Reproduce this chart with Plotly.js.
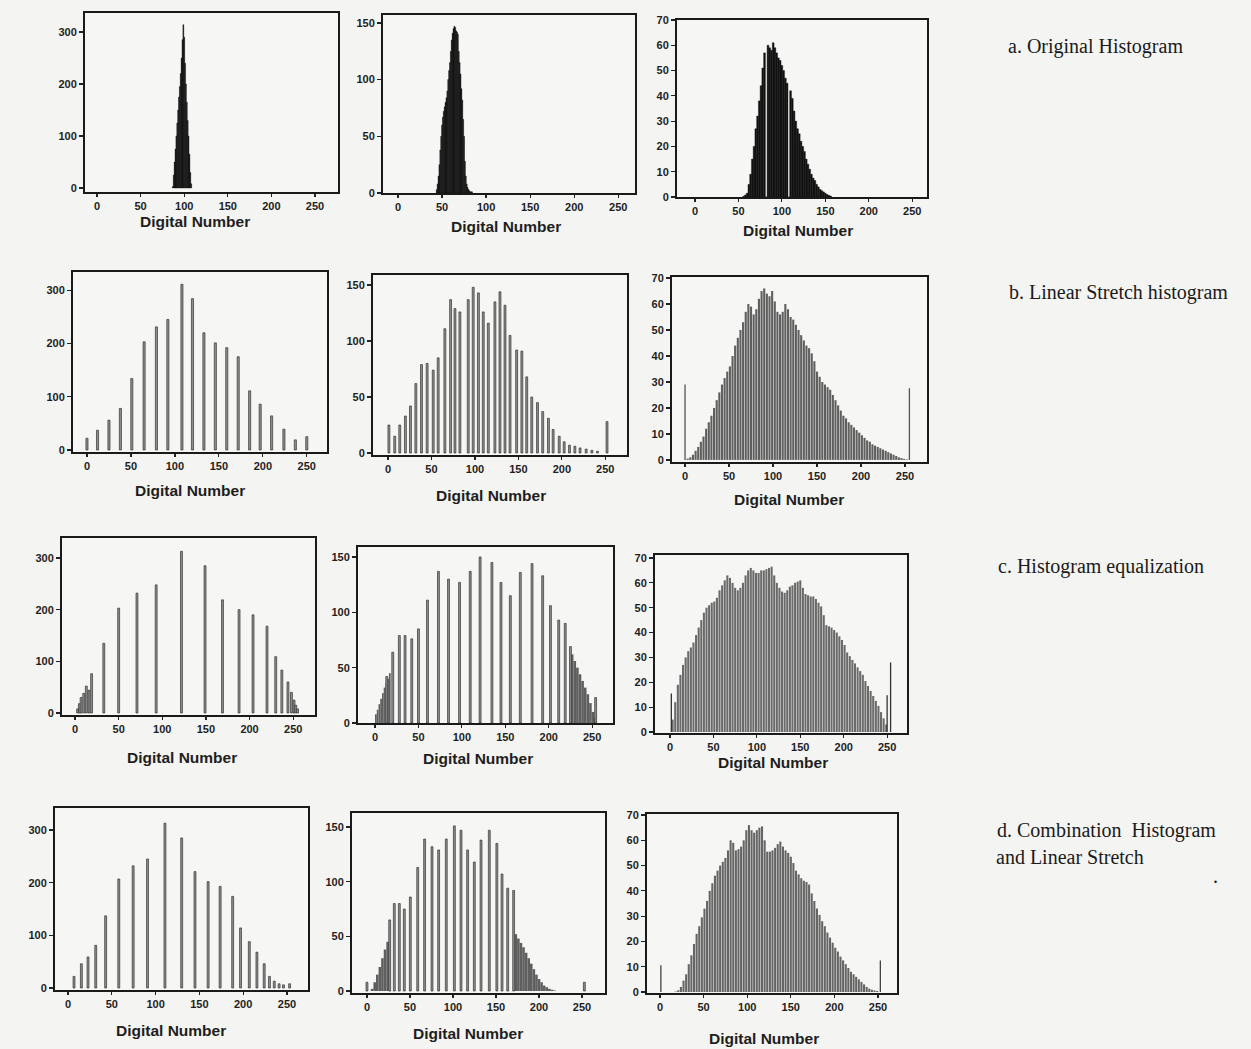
<!DOCTYPE html>
<html>
<head>
<meta charset="utf-8">
<script src="https://cdn.plot.ly/plotly-3.0.1.min.js"></script>
<style>
  html, body { margin: 0; padding: 0; background: #f4f4f2; }
  #chart { width: 1251px; height: 1049px; }
</style>
</head>
<body>
<div id="chart"></div>
<script>
// ---------------- DATA ----------------
const xTickVals = [0, 50, 100, 150, 200, 250];
const yTicks300 = [0, 100, 200, 300];
const yTicks150 = [0, 50, 100, 150];
const yTicks70 = [0, 10, 20, 30, 40, 50, 60, 70];
const rowLabels = ["a. Original Histogram", "b. Linear Stretch histogram", "c. Histogram equalization", "d. Combination  Histogram", "and Linear Stretch"];
const axisTitle = "Digital Number";

// a. Original histograms
const dn1 = [87,88,89,90,91,92,93,94,95,96,97,98,99,100,101,102,103,104,105,106,107,108];
const cnt1 = [3,25,50,75,100,125,150,175,195,220,250,285,314,290,240,200,165,130,100,65,30,8];

const dn2 = [44,45,46,47,48,49,50,51,52,53,54,55,56,57,58,59,60,61,62,63,64,65,66,67,68,69,70,71,72,73,74,75,76,77,78,79,80,81,82,83,84];
const cnt2 = [3,8,15,25,38,50,60,67,72,76,80,84,90,100,108,115,125,135,141,145,147,146,143,142,140,125,115,105,92,82,65,50,28,15,8,5,3,2,1,1,1];

const dn3start = 56, dn3step = 2;
const cnt3 = [0.3,0.8,1.5,5,9,15,20,27,32,38,44,51,57,0,60,59,58,61,59,57,55,54,52,50,47,45,0,42,39,34,30,27,25,22,20,18,15,13,11,9,7.5,6.5,5,4,3,2.5,2,1.5,1,0.7,0.4];

// b. Linear stretch
const dn4 = [0,12,25,38,51,65,79,92,108,120,133,146,159,172,185,197,210,224,237,250];
const cnt4 = [22,37,56,78,134,203,231,245,311,284,220,201,192,175,111,86,64,39,19,25];

const dn5 = [1,7.7,13.5,20,25.8,32,38.5,45,52,57.7,65.4,72,77,82.7,92.3,98,104,109.6,115.4,123,128.8,134.6,140.4,148,154,159.6,165.4,172,178,184.6,190,197,202.7,208.8,215,221,228,234.6,241,252];
const cnt5 = [25,15,25,33,42,62,79,80,74,85,111,137,129,126,137,148,143,126,116,135,144,132,105,92,91,68,50,45,37,31,21,15,10,7,6,4.5,3.5,2.4,1.5,28];

const dn6start = 3, dn6step = 3;
const cnt6 = [0.5,1,2,3.5,5,7,9,12,14.5,17,20,23,26,29,31.5,34,36,40,44,47,50,53,57,60,59,56,58,62,65,66,64,63,65,61,57,56,57,60,58,55,54,52,50,48,46,44,43,41,38,34,32,30,29,28,27,25,23,21,19,17,16,14.5,13.5,12.5,11.5,10.5,9.5,8.5,7.5,7,6,5.5,5,4.5,4,3.5,3,2.5,2,1.5,1,0.7,0.4,0.2];
const dn6spk = [0, 255];
const cnt6spk = [29, 27.6];

// c. Histogram equalization
const dn7 = [3,5,7,10,13,16,19,33,50,71,93,122,149,169,188,204,220,230,237,244,248,251,253,255];
const cnt7 = [8,18,30,38,52,44,76,135,203,232,248,313,285,219,200,190,168,109,83,60,40,25,15,8];

const dn8 = [13.5,20.4,28,34.6,42.3,50,60.4,73,84.6,97.3,109.6,121,134.6,145,155.8,167.3,180.8,193,202,211.5,219,225,254];
const cnt8 = [42,64,79,79,76,85,111,137,130,127,137,150,145,127,115,136,144,133,106,93,90,69,23];
const dn8fillL = [1,3,5,7,9,11,13,15,17];
const cnt8fillL = [8,12,17,22,27,32,36,40,45];
const dn8fillR = [227,230,233,236,239,242,245,248,251,253];
const cnt8fillR = [62,56,50,44,38,32,26,18,10,5];

const dn9start = 3, dn9step = 3;
const cnt9 = [5,12,19,23,27,30,32.5,34,36,39,42,45,48,50,51,52,52.5,54,57,59,61,63,62,60,58,57,58,60,63,65,66,65,64,64,65,65,65.5,66,66.5,63,60,58,56.5,56,57,58.5,59,60,60.5,61,58,55.5,55,54.5,54.5,53.5,52,50.5,47,43,42.5,42,41,40,38.5,37,35,32,30.5,29,27.6,26,24.5,23,20.5,18.5,16.5,14.5,12.5,10.5,8,5.5,3];
const dn9spk = [1.5, 250, 254];
const cnt9spk = [15.5, 14.8, 28];

// d. Combination histogram and linear stretch
const dn10 = [6.9,15.3,22.9,31.7,43,58,74.4,90.8,110.7,129.8,145,160,173.7,188,197,207,215.7,224,230,235.5,241,246,253];
const cnt10 = [22,46,59,81,137,207,232,245,313,285,221,202,193,174,114,88,68,46,22,13,8,6,8];

const dn11 = [0,26.4,31.8,37.6,43.4,50.4,59,67,75.6,83.3,92.2,101.6,109.3,117,124.8,132.6,142.2,151,157,163.6,170.5,252.7];
const cnt11 = [8,65,80,80,75,86,113,139,132,129,139,151,147,129,118,138,147,135,107,94,92,8];
const dn11fillL = [6,9,12,15,18,21,24];
const cnt11fillL = [2,8,15,22,30,38,45];
const dn11fillR = [173,176,179,182,185,188,191,194,197,200,203,206,209,212,215,218];
const cnt11fillR = [52,48,44,40,35,30,25,20,15,11,8,5,3.5,2,1.2,0.6];

const dn12start = 18, dn12step = 3;
const cnt12 = [0.2,0.7,2,4.5,7,11,14.5,19,23,26,29.5,33,36,40,43,46,48,50,51.5,53,56,60,59,56,56.5,57.5,60,64,66,64,63,64,65,65.5,60,55.5,55.5,56,57,58.5,59.5,57.5,56,55,53.5,51,48,46.5,45,44,43.5,42.5,39,36,33,30.5,28,26,23.5,21.5,19.5,17.5,16,14,12.5,11,9.5,8,7,6,5,4,3,2,1.3,0.9,0.6,0.4];
const dn12spk = [1, 252.7];
const cnt12spk = [10.6, 12.5];

// bin positions of the regular histograms
function bins(start, step, n) { const a = []; for (let i = 0; i < n; i++) a.push(start + i * step); return a; }

// ---------------- LAYOUT ----------------
const W = 1251, H = 1049;
const BLACK = {color: '#111111', line: {color: '#111111', width: 0.4}};
const COMB = {color: '#8f8f8f', line: {color: '#353535', width: 0.7}};
const DENSE = {color: '#5f5f5f', line: {width: 0}};

const panels = [
  {box:[85,338,13,192],  xr:[-13.8,276.4], yr:[-7.7,336.5], yt:yTicks300, tt:[195,222],
   tr:[{x:dn1, y:cnt1, w:1.05, m:BLACK}]},
  {box:[383,635,15,193], xr:[-17,269], yr:[0,157], yt:yTicks150, tt:[506,226],
   tr:[{x:dn2, y:cnt2, w:1.05, m:BLACK}]},
  {box:[677,927,20,197], xr:[-20.7,267], yr:[0,70], yt:yTicks70, tt:[798,230],
   tr:[{x:bins(dn3start, dn3step, cnt3.length), y:cnt3, w:2.05, m:BLACK}]},
  {box:[73,327,272,452], xr:[-15.9,273], yr:[-3.75,334], yt:yTicks300, tt:[190,490],
   tr:[{x:dn4, y:cnt4, w:2.4, m:COMB}]},
  {box:[373,627,275,455], xr:[-17.3,275], yr:[-1.8,159], yt:yTicks150, tt:[491,495],
   tr:[{x:dn5, y:cnt5, w:2.2, m:COMB}]},
  {box:[672,927,277,462], xr:[-14.8,275], yr:[-0.8,70.4], yt:yTicks70, tt:[789,500],
   tr:[{x:bins(dn6start, dn6step, cnt6.length), y:cnt6, w:2.4, m:DENSE},
       {x:dn6spk, y:cnt6spk, w:1.5, m:{color:'#555', line:{width:0}}}]},
  {box:[62,315,538,715], xr:[-14.9,275], yr:[-3.9,338.7], yt:yTicks300, tt:[182,757],
   tr:[{x:dn7, y:cnt7, w:2.2, m:COMB}]},
  {box:[358,613,547,723], xr:[-19.6,274], yr:[0,159], yt:yTicks150, tt:[478,758],
   tr:[{x:dn8fillL, y:cnt8fillL, w:2, m:DENSE}, {x:dn8fillR, y:cnt8fillR, w:3, m:DENSE},
       {x:dn8, y:cnt8, w:2.2, m:COMB}]},
  {box:[655,907,555,733], xr:[-17.3,272.9], yr:[-0.4,71.2], yt:yTicks70, tt:[773,762],
   tr:[{x:bins(dn9start, dn9step, cnt9.length), y:cnt9, w:2.4, m:{color:'#6a6a6a', line:{width:0}}},
       {x:dn9spk, y:cnt9spk, w:1.5, m:{color:'#333', line:{width:0}}}]},
  {box:[55,308,808,990], xr:[-14.8,274], yr:[-3.8,341.8], yt:yTicks300, tt:[171,1030],
   tr:[{x:dn10, y:cnt10, w:2.2, m:COMB}]},
  {box:[352,605,813,993], xr:[-17.4,276.7], yr:[-1.8,162.8], yt:yTicks150, tt:[468,1033],
   tr:[{x:dn11fillL, y:cnt11fillL, w:3, m:DENSE}, {x:dn11fillR, y:cnt11fillR, w:3, m:DENSE},
       {x:dn11, y:cnt11, w:2.2, m:COMB}]},
  {box:[647,897,814,993], xr:[-14.9,271.8], yr:[-0.4,70.4], yt:yTicks70, tt:[764,1038],
   tr:[{x:bins(dn12start, dn12step, cnt12.length), y:cnt12, w:2.4, m:{color:'#656565', line:{width:0}}},
       {x:dn12spk, y:cnt12spk, w:1.5, m:{color:'#444', line:{width:0}}}]},
];

const tickFont = {family: 'Liberation Sans, Arial, sans-serif', size: 11, color: '#1e1e1e', weight: 'bold'};
const data = [];
const layout = {
  width: W, height: H,
  margin: {l: 0, r: 0, t: 0, b: 0},
  paper_bgcolor: '#f4f4f2',
  plot_bgcolor: '#f6f6f4',
  showlegend: false,
  barmode: 'overlay',
  annotations: [],
};

panels.forEach((p, i) => {
  const k = i + 1;
  const xa = 'xaxis' + (k === 1 ? '' : k), ya = 'yaxis' + (k === 1 ? '' : k);
  const xr = 'x' + (k === 1 ? '' : k), yr = 'y' + (k === 1 ? '' : k);
  const [L, R, T, B] = p.box;
  layout[xa] = {
    domain: [L / W, R / W], anchor: yr, range: p.xr,
    tickmode: 'array', tickvals: xTickVals, ticks: 'outside', ticklen: 3, tickwidth: 1.2, tickcolor: '#222',
    tickfont: tickFont, showline: true, mirror: true, linewidth: 2, linecolor: '#1a1a1a',
    showgrid: false, zeroline: false, fixedrange: true,
  };
  layout[ya] = {
    domain: [1 - B / H, 1 - T / H], anchor: xr, range: p.yr,
    tickmode: 'array', tickvals: p.yt, ticks: 'outside', ticklen: 4, tickwidth: 1.2, tickcolor: '#222',
    tickfont: tickFont, showline: true, mirror: true, linewidth: 2, linecolor: '#1a1a1a',
    showgrid: false, zeroline: false, fixedrange: true,
  };
  p.tr.forEach(t => {
    data.push({
      type: 'bar', x: t.x, y: t.y, width: t.w, marker: t.m,
      xaxis: xr, yaxis: yr, hoverinfo: 'skip',
    });
  });
  layout.annotations.push({
    xref: 'paper', yref: 'paper', x: p.tt[0] / W, y: 1 - p.tt[1] / H,
    xanchor: 'center', yanchor: 'middle', showarrow: false, text: axisTitle,
    font: {family: 'Liberation Sans, Arial, sans-serif', size: 15.5, color: '#1e1e1e', weight: 'bold'},
  });
});

const labelPos = [[1095, 47], [1118, 292], [1101, 566], [1106, 830], [1070, 857]];
rowLabels.forEach((t, i) => {
  layout.annotations.push({
    xref: 'paper', yref: 'paper', x: labelPos[i][0] / W, y: 1 - labelPos[i][1] / H,
    xanchor: 'center', yanchor: 'middle', showarrow: false, text: t,
    font: {family: 'Liberation Serif, Times New Roman, serif', size: 20, color: '#1a1a1a'},
  });
});
layout.annotations.push({
  xref: 'paper', yref: 'paper', x: 1215 / W, y: 1 - 876 / H,
  xanchor: 'center', yanchor: 'middle', showarrow: false, text: '.',
  font: {family: 'Liberation Serif, Times New Roman, serif', size: 20, color: '#1a1a1a'},
});

Plotly.newPlot('chart', data, layout, {staticPlot: true, displayModeBar: false});
</script>
</body>
</html>
